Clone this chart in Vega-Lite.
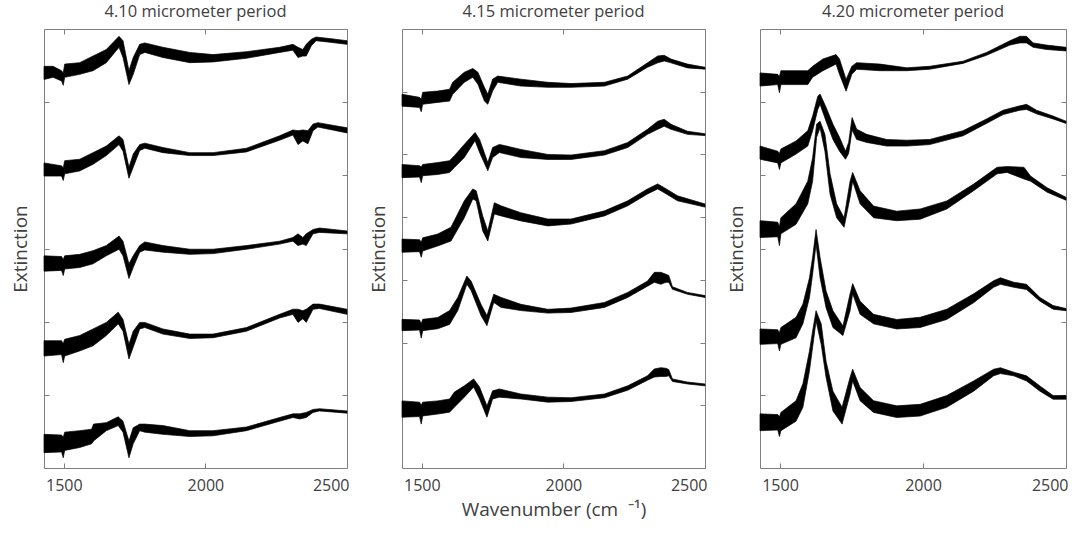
{
"$schema": "https://vega.github.io/schema/vega-lite/v6.json",
"padding": {"left": 11, "top": 3, "right": 5, "bottom": 5},
"background": "white",
"config": {
 "font": "Open Sans",
 "view": {"stroke": "#7f7f7f", "strokeWidth": 1},
 "axis": {"domain": false, "grid": false, "tickColor": "#7f7f7f", "tickSize": -5, "tickWidth": 1, "labelPadding": 14, "labelFont": "Open Sans", "labelFontSize": 16, "labelColor": "#404040", "titleFont": "Open Sans", "titleFontSize": 19, "titleFontWeight": "normal", "titleColor": "#404040", "titlePadding": 13},
 "title": {"font": "Open Sans", "fontSize": 16.5, "fontWeight": "normal", "color": "#404040", "offset": 8}
},
"data": {"values": [
{"p":1,"c":"A","x":1430,"lo":5.31,"hi":5.49},{"p":1,"c":"A","x":1462,"lo":5.34,"hi":5.49},{"p":1,"c":"A","x":1492,"lo":5.29,"hi":5.43},{"p":1,"c":"A","x":1498,"lo":5.23,"hi":5.40},{"p":1,"c":"A","x":1503,"lo":5.34,"hi":5.52},{"p":1,"c":"A","x":1556,"lo":5.38,"hi":5.54},{"p":1,"c":"A","x":1603,"lo":5.43,"hi":5.63},{"p":1,"c":"A","x":1650,"lo":5.54,"hi":5.72},{"p":1,"c":"A","x":1695,"lo":5.75,"hi":5.90},{"p":1,"c":"A","x":1709,"lo":5.61,"hi":5.84},{"p":1,"c":"A","x":1730,"lo":5.24,"hi":5.43},{"p":1,"c":"A","x":1745,"lo":5.38,"hi":5.61},{"p":1,"c":"A","x":1768,"lo":5.65,"hi":5.79},{"p":1,"c":"A","x":1786,"lo":5.68,"hi":5.81},{"p":1,"c":"A","x":1850,"lo":5.61,"hi":5.75},{"p":1,"c":"A","x":1945,"lo":5.54,"hi":5.68},{"p":1,"c":"A","x":2027,"lo":5.55,"hi":5.65},{"p":1,"c":"A","x":2145,"lo":5.60,"hi":5.69},{"p":1,"c":"A","x":2262,"lo":5.68,"hi":5.75},{"p":1,"c":"A","x":2309,"lo":5.71,"hi":5.79},{"p":1,"c":"A","x":2327,"lo":5.61,"hi":5.75},{"p":1,"c":"A","x":2344,"lo":5.63,"hi":5.72},{"p":1,"c":"A","x":2356,"lo":5.63,"hi":5.79},{"p":1,"c":"A","x":2374,"lo":5.77,"hi":5.86},{"p":1,"c":"A","x":2391,"lo":5.84,"hi":5.89},{"p":1,"c":"A","x":2438,"lo":5.82,"hi":5.87},{"p":1,"c":"A","x":2500,"lo":5.79,"hi":5.84},
{"p":1,"c":"B","x":1430,"lo":3.99,"hi":4.17},{"p":1,"c":"B","x":1492,"lo":3.99,"hi":4.13},{"p":1,"c":"B","x":1498,"lo":3.93,"hi":4.10},{"p":1,"c":"B","x":1503,"lo":4.02,"hi":4.20},{"p":1,"c":"B","x":1556,"lo":4.06,"hi":4.22},{"p":1,"c":"B","x":1603,"lo":4.15,"hi":4.31},{"p":1,"c":"B","x":1650,"lo":4.27,"hi":4.40},{"p":1,"c":"B","x":1695,"lo":4.42,"hi":4.54},{"p":1,"c":"B","x":1709,"lo":4.33,"hi":4.49},{"p":1,"c":"B","x":1730,"lo":3.96,"hi":4.11},{"p":1,"c":"B","x":1745,"lo":4.11,"hi":4.29},{"p":1,"c":"B","x":1768,"lo":4.34,"hi":4.42},{"p":1,"c":"B","x":1786,"lo":4.37,"hi":4.44},{"p":1,"c":"B","x":1850,"lo":4.31,"hi":4.38},{"p":1,"c":"B","x":1945,"lo":4.27,"hi":4.31},{"p":1,"c":"B","x":2027,"lo":4.27,"hi":4.31},{"p":1,"c":"B","x":2145,"lo":4.32,"hi":4.37},{"p":1,"c":"B","x":2262,"lo":4.48,"hi":4.54},{"p":1,"c":"B","x":2309,"lo":4.55,"hi":4.62},{"p":1,"c":"B","x":2327,"lo":4.42,"hi":4.61},{"p":1,"c":"B","x":2344,"lo":4.47,"hi":4.62},{"p":1,"c":"B","x":2362,"lo":4.43,"hi":4.61},{"p":1,"c":"B","x":2380,"lo":4.61,"hi":4.70},{"p":1,"c":"B","x":2397,"lo":4.66,"hi":4.72},{"p":1,"c":"B","x":2500,"lo":4.58,"hi":4.65},
{"p":1,"c":"C","x":1430,"lo":2.69,"hi":2.90},{"p":1,"c":"C","x":1492,"lo":2.70,"hi":2.89},{"p":1,"c":"C","x":1498,"lo":2.63,"hi":2.85},{"p":1,"c":"C","x":1503,"lo":2.72,"hi":2.90},{"p":1,"c":"C","x":1556,"lo":2.74,"hi":2.92},{"p":1,"c":"C","x":1603,"lo":2.79,"hi":2.97},{"p":1,"c":"C","x":1650,"lo":2.90,"hi":3.04},{"p":1,"c":"C","x":1695,"lo":2.99,"hi":3.17},{"p":1,"c":"C","x":1709,"lo":2.90,"hi":3.10},{"p":1,"c":"C","x":1730,"lo":2.59,"hi":2.79},{"p":1,"c":"C","x":1745,"lo":2.74,"hi":2.90},{"p":1,"c":"C","x":1768,"lo":2.95,"hi":3.04},{"p":1,"c":"C","x":1786,"lo":2.98,"hi":3.09},{"p":1,"c":"C","x":1850,"lo":2.95,"hi":3.04},{"p":1,"c":"C","x":1945,"lo":2.92,"hi":2.99},{"p":1,"c":"C","x":2027,"lo":2.93,"hi":2.99},{"p":1,"c":"C","x":2145,"lo":2.99,"hi":3.04},{"p":1,"c":"C","x":2262,"lo":3.06,"hi":3.10},{"p":1,"c":"C","x":2309,"lo":3.10,"hi":3.15},{"p":1,"c":"C","x":2327,"lo":3.04,"hi":3.20},{"p":1,"c":"C","x":2344,"lo":3.06,"hi":3.15},{"p":1,"c":"C","x":2356,"lo":3.04,"hi":3.20},{"p":1,"c":"C","x":2380,"lo":3.20,"hi":3.26},{"p":1,"c":"C","x":2403,"lo":3.22,"hi":3.28},{"p":1,"c":"C","x":2500,"lo":3.20,"hi":3.24},
{"p":1,"c":"D","x":1430,"lo":1.53,"hi":1.74},{"p":1,"c":"D","x":1492,"lo":1.55,"hi":1.74},{"p":1,"c":"D","x":1498,"lo":1.44,"hi":1.70},{"p":1,"c":"D","x":1503,"lo":1.53,"hi":1.76},{"p":1,"c":"D","x":1556,"lo":1.60,"hi":1.81},{"p":1,"c":"D","x":1603,"lo":1.67,"hi":1.90},{"p":1,"c":"D","x":1650,"lo":1.81,"hi":1.99},{"p":1,"c":"D","x":1692,"lo":1.97,"hi":2.13},{"p":1,"c":"D","x":1709,"lo":1.87,"hi":2.03},{"p":1,"c":"D","x":1730,"lo":1.49,"hi":1.69},{"p":1,"c":"D","x":1745,"lo":1.65,"hi":1.87},{"p":1,"c":"D","x":1768,"lo":1.90,"hi":1.99},{"p":1,"c":"D","x":1786,"lo":1.92,"hi":1.99},{"p":1,"c":"D","x":1850,"lo":1.83,"hi":1.90},{"p":1,"c":"D","x":1945,"lo":1.77,"hi":1.83},{"p":1,"c":"D","x":2027,"lo":1.78,"hi":1.83},{"p":1,"c":"D","x":2145,"lo":1.87,"hi":1.92},{"p":1,"c":"D","x":2262,"lo":2.05,"hi":2.10},{"p":1,"c":"D","x":2309,"lo":2.10,"hi":2.17},{"p":1,"c":"D","x":2327,"lo":1.99,"hi":2.17},{"p":1,"c":"D","x":2344,"lo":2.04,"hi":2.15},{"p":1,"c":"D","x":2356,"lo":1.99,"hi":2.17},{"p":1,"c":"D","x":2380,"lo":2.17,"hi":2.24},{"p":1,"c":"D","x":2403,"lo":2.18,"hi":2.24},{"p":1,"c":"D","x":2500,"lo":2.10,"hi":2.17},
{"p":1,"c":"E","x":1430,"lo":0.21,"hi":0.46},{"p":1,"c":"E","x":1492,"lo":0.22,"hi":0.45},{"p":1,"c":"E","x":1498,"lo":0.14,"hi":0.42},{"p":1,"c":"E","x":1503,"lo":0.24,"hi":0.49},{"p":1,"c":"E","x":1556,"lo":0.28,"hi":0.51},{"p":1,"c":"E","x":1598,"lo":0.33,"hi":0.53},{"p":1,"c":"E","x":1605,"lo":0.37,"hi":0.60},{"p":1,"c":"E","x":1650,"lo":0.51,"hi":0.62},{"p":1,"c":"E","x":1692,"lo":0.58,"hi":0.70},{"p":1,"c":"E","x":1709,"lo":0.49,"hi":0.64},{"p":1,"c":"E","x":1730,"lo":0.14,"hi":0.37},{"p":1,"c":"E","x":1745,"lo":0.33,"hi":0.55},{"p":1,"c":"E","x":1768,"lo":0.51,"hi":0.60},{"p":1,"c":"E","x":1786,"lo":0.49,"hi":0.60},{"p":1,"c":"E","x":1850,"lo":0.46,"hi":0.58},{"p":1,"c":"E","x":1945,"lo":0.43,"hi":0.51},{"p":1,"c":"E","x":2027,"lo":0.44,"hi":0.51},{"p":1,"c":"E","x":2145,"lo":0.51,"hi":0.56},{"p":1,"c":"E","x":2262,"lo":0.64,"hi":0.69},{"p":1,"c":"E","x":2309,"lo":0.69,"hi":0.74},{"p":1,"c":"E","x":2333,"lo":0.67,"hi":0.74},{"p":1,"c":"E","x":2356,"lo":0.69,"hi":0.76},{"p":1,"c":"E","x":2380,"lo":0.76,"hi":0.80},{"p":1,"c":"E","x":2403,"lo":0.78,"hi":0.81},{"p":1,"c":"E","x":2500,"lo":0.75,"hi":0.78},
{"p":2,"c":"A","x":1430,"lo":5.77,"hi":5.96},{"p":2,"c":"A","x":1492,"lo":5.75,"hi":5.91},{"p":2,"c":"A","x":1498,"lo":5.68,"hi":5.88},{"p":2,"c":"A","x":1503,"lo":5.80,"hi":5.99},{"p":2,"c":"A","x":1556,"lo":5.83,"hi":6.01},{"p":2,"c":"A","x":1598,"lo":5.85,"hi":6.04},{"p":2,"c":"A","x":1609,"lo":5.96,"hi":6.15},{"p":2,"c":"A","x":1650,"lo":6.15,"hi":6.31},{"p":2,"c":"A","x":1680,"lo":6.23,"hi":6.37},{"p":2,"c":"A","x":1698,"lo":6.12,"hi":6.31},{"p":2,"c":"A","x":1721,"lo":5.85,"hi":6.07},{"p":2,"c":"A","x":1733,"lo":5.80,"hi":5.96},{"p":2,"c":"A","x":1750,"lo":6.01,"hi":6.20},{"p":2,"c":"A","x":1768,"lo":6.15,"hi":6.25},{"p":2,"c":"A","x":1850,"lo":6.09,"hi":6.20},{"p":2,"c":"A","x":1945,"lo":6.07,"hi":6.15},{"p":2,"c":"A","x":2027,"lo":6.07,"hi":6.13},{"p":2,"c":"A","x":2145,"lo":6.09,"hi":6.15},{"p":2,"c":"A","x":2227,"lo":6.20,"hi":6.25},{"p":2,"c":"A","x":2297,"lo":6.39,"hi":6.46},{"p":2,"c":"A","x":2333,"lo":6.46,"hi":6.57},{"p":2,"c":"A","x":2356,"lo":6.49,"hi":6.58},{"p":2,"c":"A","x":2380,"lo":6.46,"hi":6.52},{"p":2,"c":"A","x":2438,"lo":6.38,"hi":6.44},{"p":2,"c":"A","x":2500,"lo":6.36,"hi":6.39},
{"p":2,"c":"B","x":1430,"lo":4.63,"hi":4.84},{"p":2,"c":"B","x":1492,"lo":4.64,"hi":4.82},{"p":2,"c":"B","x":1498,"lo":4.55,"hi":4.80},{"p":2,"c":"B","x":1503,"lo":4.66,"hi":4.84},{"p":2,"c":"B","x":1556,"lo":4.68,"hi":4.87},{"p":2,"c":"B","x":1598,"lo":4.71,"hi":4.90},{"p":2,"c":"B","x":1615,"lo":4.79,"hi":4.98},{"p":2,"c":"B","x":1650,"lo":4.95,"hi":5.16},{"p":2,"c":"B","x":1688,"lo":5.22,"hi":5.35},{"p":2,"c":"B","x":1704,"lo":5.03,"hi":5.24},{"p":2,"c":"B","x":1733,"lo":4.74,"hi":4.87},{"p":2,"c":"B","x":1750,"lo":4.95,"hi":5.11},{"p":2,"c":"B","x":1774,"lo":5.03,"hi":5.16},{"p":2,"c":"B","x":1850,"lo":4.95,"hi":5.08},{"p":2,"c":"B","x":1945,"lo":4.92,"hi":5.00},{"p":2,"c":"B","x":2027,"lo":4.92,"hi":4.99},{"p":2,"c":"B","x":2145,"lo":4.99,"hi":5.06},{"p":2,"c":"B","x":2227,"lo":5.11,"hi":5.19},{"p":2,"c":"B","x":2297,"lo":5.32,"hi":5.40},{"p":2,"c":"B","x":2333,"lo":5.40,"hi":5.53},{"p":2,"c":"B","x":2356,"lo":5.45,"hi":5.56},{"p":2,"c":"B","x":2380,"lo":5.40,"hi":5.48},{"p":2,"c":"B","x":2438,"lo":5.32,"hi":5.37},{"p":2,"c":"B","x":2500,"lo":5.30,"hi":5.33},
{"p":2,"c":"C","x":1430,"lo":3.44,"hi":3.65},{"p":2,"c":"C","x":1492,"lo":3.45,"hi":3.64},{"p":2,"c":"C","x":1498,"lo":3.36,"hi":3.60},{"p":2,"c":"C","x":1503,"lo":3.46,"hi":3.67},{"p":2,"c":"C","x":1556,"lo":3.54,"hi":3.73},{"p":2,"c":"C","x":1603,"lo":3.62,"hi":3.84},{"p":2,"c":"C","x":1650,"lo":3.99,"hi":4.26},{"p":2,"c":"C","x":1680,"lo":4.29,"hi":4.45},{"p":2,"c":"C","x":1692,"lo":4.26,"hi":4.42},{"p":2,"c":"C","x":1715,"lo":3.78,"hi":4.02},{"p":2,"c":"C","x":1733,"lo":3.62,"hi":3.78},{"p":2,"c":"C","x":1756,"lo":4.05,"hi":4.23},{"p":2,"c":"C","x":1780,"lo":4.02,"hi":4.18},{"p":2,"c":"C","x":1850,"lo":3.94,"hi":4.07},{"p":2,"c":"C","x":1945,"lo":3.86,"hi":3.97},{"p":2,"c":"C","x":2027,"lo":3.89,"hi":3.97},{"p":2,"c":"C","x":2145,"lo":4.02,"hi":4.10},{"p":2,"c":"C","x":2227,"lo":4.18,"hi":4.26},{"p":2,"c":"C","x":2297,"lo":4.37,"hi":4.45},{"p":2,"c":"C","x":2333,"lo":4.45,"hi":4.53},{"p":2,"c":"C","x":2356,"lo":4.39,"hi":4.47},{"p":2,"c":"C","x":2403,"lo":4.26,"hi":4.34},{"p":2,"c":"C","x":2500,"lo":4.16,"hi":4.21},
{"p":2,"c":"D","x":1430,"lo":2.19,"hi":2.37},{"p":2,"c":"D","x":1492,"lo":2.20,"hi":2.36},{"p":2,"c":"D","x":1498,"lo":2.07,"hi":2.30},{"p":2,"c":"D","x":1503,"lo":2.19,"hi":2.37},{"p":2,"c":"D","x":1556,"lo":2.22,"hi":2.40},{"p":2,"c":"D","x":1598,"lo":2.29,"hi":2.51},{"p":2,"c":"D","x":1627,"lo":2.51,"hi":2.72},{"p":2,"c":"D","x":1659,"lo":2.93,"hi":3.06},{"p":2,"c":"D","x":1674,"lo":2.83,"hi":2.98},{"p":2,"c":"D","x":1709,"lo":2.43,"hi":2.61},{"p":2,"c":"D","x":1730,"lo":2.27,"hi":2.43},{"p":2,"c":"D","x":1754,"lo":2.64,"hi":2.77},{"p":2,"c":"D","x":1780,"lo":2.56,"hi":2.72},{"p":2,"c":"D","x":1850,"lo":2.51,"hi":2.61},{"p":2,"c":"D","x":1945,"lo":2.47,"hi":2.53},{"p":2,"c":"D","x":2027,"lo":2.48,"hi":2.55},{"p":2,"c":"D","x":2145,"lo":2.56,"hi":2.64},{"p":2,"c":"D","x":2227,"lo":2.72,"hi":2.80},{"p":2,"c":"D","x":2297,"lo":2.90,"hi":2.98},{"p":2,"c":"D","x":2321,"lo":2.96,"hi":3.12},{"p":2,"c":"D","x":2344,"lo":2.93,"hi":3.12},{"p":2,"c":"D","x":2362,"lo":2.96,"hi":3.09},{"p":2,"c":"D","x":2372,"lo":2.96,"hi":3.07},{"p":2,"c":"D","x":2385,"lo":2.85,"hi":2.89},{"p":2,"c":"D","x":2438,"lo":2.77,"hi":2.80},{"p":2,"c":"D","x":2500,"lo":2.72,"hi":2.75},
{"p":2,"c":"E","x":1430,"lo":0.81,"hi":1.07},{"p":2,"c":"E","x":1492,"lo":0.82,"hi":1.05},{"p":2,"c":"E","x":1498,"lo":0.70,"hi":1.00},{"p":2,"c":"E","x":1503,"lo":0.83,"hi":1.05},{"p":2,"c":"E","x":1556,"lo":0.86,"hi":1.07},{"p":2,"c":"E","x":1598,"lo":0.89,"hi":1.10},{"p":2,"c":"E","x":1615,"lo":0.97,"hi":1.21},{"p":2,"c":"E","x":1650,"lo":1.13,"hi":1.31},{"p":2,"c":"E","x":1683,"lo":1.29,"hi":1.42},{"p":2,"c":"E","x":1704,"lo":1.10,"hi":1.29},{"p":2,"c":"E","x":1730,"lo":0.81,"hi":0.99},{"p":2,"c":"E","x":1750,"lo":1.10,"hi":1.23},{"p":2,"c":"E","x":1774,"lo":1.13,"hi":1.26},{"p":2,"c":"E","x":1850,"lo":1.10,"hi":1.18},{"p":2,"c":"E","x":1945,"lo":1.05,"hi":1.13},{"p":2,"c":"E","x":2027,"lo":1.06,"hi":1.12},{"p":2,"c":"E","x":2145,"lo":1.12,"hi":1.18},{"p":2,"c":"E","x":2227,"lo":1.24,"hi":1.31},{"p":2,"c":"E","x":2297,"lo":1.40,"hi":1.47},{"p":2,"c":"E","x":2321,"lo":1.45,"hi":1.58},{"p":2,"c":"E","x":2344,"lo":1.46,"hi":1.60},{"p":2,"c":"E","x":2362,"lo":1.46,"hi":1.59},{"p":2,"c":"E","x":2372,"lo":1.47,"hi":1.57},{"p":2,"c":"E","x":2385,"lo":1.38,"hi":1.42},{"p":2,"c":"E","x":2438,"lo":1.34,"hi":1.37},{"p":2,"c":"E","x":2500,"lo":1.31,"hi":1.34},
{"p":3,"c":"A","x":1430,"lo":5.22,"hi":5.40},{"p":3,"c":"A","x":1492,"lo":5.24,"hi":5.38},{"p":3,"c":"A","x":1498,"lo":5.13,"hi":5.35},{"p":3,"c":"A","x":1503,"lo":5.24,"hi":5.43},{"p":3,"c":"A","x":1556,"lo":5.24,"hi":5.43},{"p":3,"c":"A","x":1597,"lo":5.24,"hi":5.43},{"p":3,"c":"A","x":1614,"lo":5.34,"hi":5.49},{"p":3,"c":"A","x":1650,"lo":5.43,"hi":5.59},{"p":3,"c":"A","x":1696,"lo":5.52,"hi":5.65},{"p":3,"c":"A","x":1708,"lo":5.38,"hi":5.59},{"p":3,"c":"A","x":1731,"lo":5.15,"hi":5.31},{"p":3,"c":"A","x":1751,"lo":5.38,"hi":5.49},{"p":3,"c":"A","x":1768,"lo":5.45,"hi":5.54},{"p":3,"c":"A","x":1850,"lo":5.43,"hi":5.52},{"p":3,"c":"A","x":1943,"lo":5.43,"hi":5.47},{"p":3,"c":"A","x":2023,"lo":5.45,"hi":5.49},{"p":3,"c":"A","x":2140,"lo":5.53,"hi":5.56},{"p":3,"c":"A","x":2222,"lo":5.64,"hi":5.68},{"p":3,"c":"A","x":2304,"lo":5.78,"hi":5.84},{"p":3,"c":"A","x":2339,"lo":5.81,"hi":5.90},{"p":3,"c":"A","x":2362,"lo":5.81,"hi":5.90},{"p":3,"c":"A","x":2385,"lo":5.75,"hi":5.81},{"p":3,"c":"A","x":2432,"lo":5.72,"hi":5.78},{"p":3,"c":"A","x":2500,"lo":5.70,"hi":5.75},
{"p":3,"c":"B","x":1430,"lo":4.22,"hi":4.40},{"p":3,"c":"B","x":1492,"lo":4.17,"hi":4.33},{"p":3,"c":"B","x":1498,"lo":4.08,"hi":4.30},{"p":3,"c":"B","x":1503,"lo":4.17,"hi":4.36},{"p":3,"c":"B","x":1556,"lo":4.29,"hi":4.47},{"p":3,"c":"B","x":1597,"lo":4.40,"hi":4.61},{"p":3,"c":"B","x":1614,"lo":4.61,"hi":4.81},{"p":3,"c":"B","x":1632,"lo":4.90,"hi":5.08},{"p":3,"c":"B","x":1640,"lo":4.97,"hi":5.11},{"p":3,"c":"B","x":1661,"lo":4.74,"hi":4.93},{"p":3,"c":"B","x":1685,"lo":4.49,"hi":4.70},{"p":3,"c":"B","x":1708,"lo":4.33,"hi":4.52},{"p":3,"c":"B","x":1729,"lo":4.22,"hi":4.33},{"p":3,"c":"B","x":1740,"lo":4.30,"hi":4.45},{"p":3,"c":"B","x":1752,"lo":4.62,"hi":4.79},{"p":3,"c":"B","x":1768,"lo":4.49,"hi":4.63},{"p":3,"c":"B","x":1803,"lo":4.45,"hi":4.56},{"p":3,"c":"B","x":1873,"lo":4.40,"hi":4.49},{"p":3,"c":"B","x":1943,"lo":4.40,"hi":4.48},{"p":3,"c":"B","x":2023,"lo":4.42,"hi":4.49},{"p":3,"c":"B","x":2140,"lo":4.54,"hi":4.61},{"p":3,"c":"B","x":2222,"lo":4.71,"hi":4.77},{"p":3,"c":"B","x":2280,"lo":4.83,"hi":4.89},{"p":3,"c":"B","x":2339,"lo":4.89,"hi":4.95},{"p":3,"c":"B","x":2362,"lo":4.90,"hi":4.97},{"p":3,"c":"B","x":2397,"lo":4.84,"hi":4.89},{"p":3,"c":"B","x":2455,"lo":4.77,"hi":4.81},{"p":3,"c":"B","x":2500,"lo":4.71,"hi":4.74},
{"p":3,"c":"C","x":1430,"lo":3.15,"hi":3.38},{"p":3,"c":"C","x":1492,"lo":3.16,"hi":3.36},{"p":3,"c":"C","x":1498,"lo":3.04,"hi":3.30},{"p":3,"c":"C","x":1503,"lo":3.20,"hi":3.42},{"p":3,"c":"C","x":1556,"lo":3.33,"hi":3.61},{"p":3,"c":"C","x":1597,"lo":3.61,"hi":3.92},{"p":3,"c":"C","x":1614,"lo":3.92,"hi":4.24},{"p":3,"c":"C","x":1628,"lo":4.52,"hi":4.70},{"p":3,"c":"C","x":1640,"lo":4.65,"hi":4.74},{"p":3,"c":"C","x":1657,"lo":4.33,"hi":4.56},{"p":3,"c":"C","x":1675,"lo":3.74,"hi":4.02},{"p":3,"c":"C","x":1698,"lo":3.42,"hi":3.61},{"p":3,"c":"C","x":1724,"lo":3.29,"hi":3.42},{"p":3,"c":"C","x":1745,"lo":3.70,"hi":3.92},{"p":3,"c":"C","x":1754,"lo":3.92,"hi":4.04},{"p":3,"c":"C","x":1780,"lo":3.61,"hi":3.79},{"p":3,"c":"C","x":1827,"lo":3.42,"hi":3.58},{"p":3,"c":"C","x":1908,"lo":3.38,"hi":3.51},{"p":3,"c":"C","x":1990,"lo":3.40,"hi":3.54},{"p":3,"c":"C","x":2083,"lo":3.54,"hi":3.65},{"p":3,"c":"C","x":2177,"lo":3.79,"hi":3.88},{"p":3,"c":"C","x":2259,"lo":4.02,"hi":4.11},{"p":3,"c":"C","x":2294,"lo":4.04,"hi":4.12},{"p":3,"c":"C","x":2353,"lo":3.95,"hi":4.11},{"p":3,"c":"C","x":2376,"lo":3.92,"hi":3.99},{"p":3,"c":"C","x":2434,"lo":3.77,"hi":3.83},{"p":3,"c":"C","x":2500,"lo":3.66,"hi":3.70},
{"p":3,"c":"D","x":1430,"lo":1.69,"hi":1.90},{"p":3,"c":"D","x":1492,"lo":1.70,"hi":1.89},{"p":3,"c":"D","x":1498,"lo":1.60,"hi":1.85},{"p":3,"c":"D","x":1503,"lo":1.69,"hi":1.92},{"p":3,"c":"D","x":1556,"lo":1.78,"hi":2.06},{"p":3,"c":"D","x":1580,"lo":1.97,"hi":2.24},{"p":3,"c":"D","x":1603,"lo":2.33,"hi":2.60},{"p":3,"c":"D","x":1614,"lo":2.65,"hi":2.88},{"p":3,"c":"D","x":1626,"lo":3.06,"hi":3.26},{"p":3,"c":"D","x":1640,"lo":2.60,"hi":2.88},{"p":3,"c":"D","x":1661,"lo":2.19,"hi":2.42},{"p":3,"c":"D","x":1685,"lo":1.92,"hi":2.15},{"p":3,"c":"D","x":1720,"lo":1.81,"hi":1.94},{"p":3,"c":"D","x":1745,"lo":2.15,"hi":2.38},{"p":3,"c":"D","x":1754,"lo":2.38,"hi":2.52},{"p":3,"c":"D","x":1780,"lo":2.10,"hi":2.28},{"p":3,"c":"D","x":1827,"lo":1.97,"hi":2.10},{"p":3,"c":"D","x":1908,"lo":1.90,"hi":2.03},{"p":3,"c":"D","x":1990,"lo":1.92,"hi":2.06},{"p":3,"c":"D","x":2083,"lo":2.03,"hi":2.17},{"p":3,"c":"D","x":2177,"lo":2.26,"hi":2.38},{"p":3,"c":"D","x":2247,"lo":2.47,"hi":2.56},{"p":3,"c":"D","x":2271,"lo":2.51,"hi":2.60},{"p":3,"c":"D","x":2317,"lo":2.47,"hi":2.54},{"p":3,"c":"D","x":2362,"lo":2.44,"hi":2.51},{"p":3,"c":"D","x":2409,"lo":2.28,"hi":2.33},{"p":3,"c":"D","x":2455,"lo":2.17,"hi":2.22},{"p":3,"c":"D","x":2500,"lo":2.15,"hi":2.18},
{"p":3,"c":"E","x":1430,"lo":0.51,"hi":0.74},{"p":3,"c":"E","x":1492,"lo":0.52,"hi":0.73},{"p":3,"c":"E","x":1498,"lo":0.43,"hi":0.70},{"p":3,"c":"E","x":1503,"lo":0.51,"hi":0.76},{"p":3,"c":"E","x":1556,"lo":0.64,"hi":0.92},{"p":3,"c":"E","x":1580,"lo":0.83,"hi":1.15},{"p":3,"c":"E","x":1603,"lo":1.33,"hi":1.60},{"p":3,"c":"E","x":1614,"lo":1.65,"hi":1.87},{"p":3,"c":"E","x":1626,"lo":2.01,"hi":2.15},{"p":3,"c":"E","x":1644,"lo":1.69,"hi":1.97},{"p":3,"c":"E","x":1661,"lo":1.24,"hi":1.46},{"p":3,"c":"E","x":1685,"lo":0.78,"hi":1.05},{"p":3,"c":"E","x":1717,"lo":0.60,"hi":0.83},{"p":3,"c":"E","x":1745,"lo":1.01,"hi":1.24},{"p":3,"c":"E","x":1754,"lo":1.19,"hi":1.35},{"p":3,"c":"E","x":1780,"lo":0.92,"hi":1.10},{"p":3,"c":"E","x":1827,"lo":0.76,"hi":0.92},{"p":3,"c":"E","x":1908,"lo":0.69,"hi":0.85},{"p":3,"c":"E","x":1990,"lo":0.71,"hi":0.87},{"p":3,"c":"E","x":2083,"lo":0.83,"hi":0.99},{"p":3,"c":"E","x":2177,"lo":1.05,"hi":1.19},{"p":3,"c":"E","x":2247,"lo":1.26,"hi":1.35},{"p":3,"c":"E","x":2271,"lo":1.29,"hi":1.37},{"p":3,"c":"E","x":2317,"lo":1.26,"hi":1.31},{"p":3,"c":"E","x":2362,"lo":1.19,"hi":1.26},{"p":3,"c":"E","x":2409,"lo":1.05,"hi":1.12},{"p":3,"c":"E","x":2455,"lo":0.94,"hi":0.99},{"p":3,"c":"E","x":2500,"lo":0.94,"hi":0.99}
]},
"spacing": 55,
"bounds": "flush",
"hconcat": [
 {
  "width": 303, "height": 439,
  "title": "4.10 micrometer period",
  "transform": [{"filter": "datum.p == 1"}],
  "layer": [
   {"mark": {"type": "area", "color": "black", "stroke": "black", "strokeWidth": 0.7, "opacity": 1},
    "encoding": {
     "x": {"field": "x", "type": "quantitative", "scale": {"domain": [1430, 2500], "nice": false, "zero": false}, "axis": {"orient": "bottom", "values": [1500, 2000, 2500], "format": "d", "title": null, "labelFlush": true, "labelFlushOffset": 2}},
     "y": {"field": "lo", "type": "quantitative", "scale": {"domain": [0, 6], "nice": false}, "axis": {"orient": "left", "values": [1, 2, 3, 4, 5], "labels": false, "title": "Extinction"}},
     "y2": {"field": "hi"},
     "detail": {"field": "c"}
    }},
   {"mark": {"type": "point", "opacity": 0},
    "encoding": {
     "x": {"field": "x", "type": "quantitative", "axis": {"orient": "top", "values": [1500, 2000, 2500], "labels": false, "title": null}},
     "y": {"field": "lo", "type": "quantitative", "axis": {"orient": "right", "values": [1, 2, 3, 4, 5], "labels": false, "title": null}}
    }}
  ],
  "resolve": {"axis": {"x": "independent", "y": "independent"}}
 },
 {
  "width": 303, "height": 439,
  "title": "4.15 micrometer period",
  "transform": [{"filter": "datum.p == 2"}],
  "layer": [
   {"mark": {"type": "area", "color": "black", "stroke": "black", "strokeWidth": 0.7, "opacity": 1},
    "encoding": {
     "x": {"field": "x", "type": "quantitative", "scale": {"domain": [1430, 2500], "nice": false, "zero": false}, "axis": {"orient": "bottom", "values": [1500, 2000, 2500], "format": "d", "title": "Wavenumber (cm\u00a0\u00a0⁻¹)", "titlePadding": 7, "labelFlush": true, "labelFlushOffset": 2}},
     "y": {"field": "lo", "type": "quantitative", "scale": {"domain": [0, 7], "nice": false}, "axis": {"orient": "left", "values": [1, 2, 3, 4, 5, 6], "labels": false, "title": "Extinction"}},
     "y2": {"field": "hi"},
     "detail": {"field": "c"}
    }},
   {"mark": {"type": "point", "opacity": 0},
    "encoding": {
     "x": {"field": "x", "type": "quantitative", "axis": {"orient": "top", "values": [1500, 2000, 2500], "labels": false, "title": null}},
     "y": {"field": "lo", "type": "quantitative", "axis": {"orient": "right", "values": [1, 2, 3, 4, 5, 6], "labels": false, "title": null}}
    }}
  ],
  "resolve": {"axis": {"x": "independent", "y": "independent"}}
 },
 {
  "width": 306, "height": 439,
  "title": "4.20 micrometer period",
  "transform": [{"filter": "datum.p == 3"}],
  "layer": [
   {"mark": {"type": "area", "color": "black", "stroke": "black", "strokeWidth": 0.7, "opacity": 1},
    "encoding": {
     "x": {"field": "x", "type": "quantitative", "scale": {"domain": [1430, 2500], "nice": false, "zero": false}, "axis": {"orient": "bottom", "values": [1500, 2000, 2500], "format": "d", "title": null, "labelFlush": true, "labelFlushOffset": 2}},
     "y": {"field": "lo", "type": "quantitative", "scale": {"domain": [0, 6], "nice": false}, "axis": {"orient": "left", "values": [1, 2, 3, 4, 5], "labels": false, "title": "Extinction"}},
     "y2": {"field": "hi"},
     "detail": {"field": "c"}
    }},
   {"mark": {"type": "point", "opacity": 0},
    "encoding": {
     "x": {"field": "x", "type": "quantitative", "axis": {"orient": "top", "values": [1500, 2000, 2500], "labels": false, "title": null}},
     "y": {"field": "lo", "type": "quantitative", "axis": {"orient": "right", "values": [1, 2, 3, 4, 5], "labels": false, "title": null}}
    }}
  ],
  "resolve": {"axis": {"x": "independent", "y": "independent"}}
 }
]
}
